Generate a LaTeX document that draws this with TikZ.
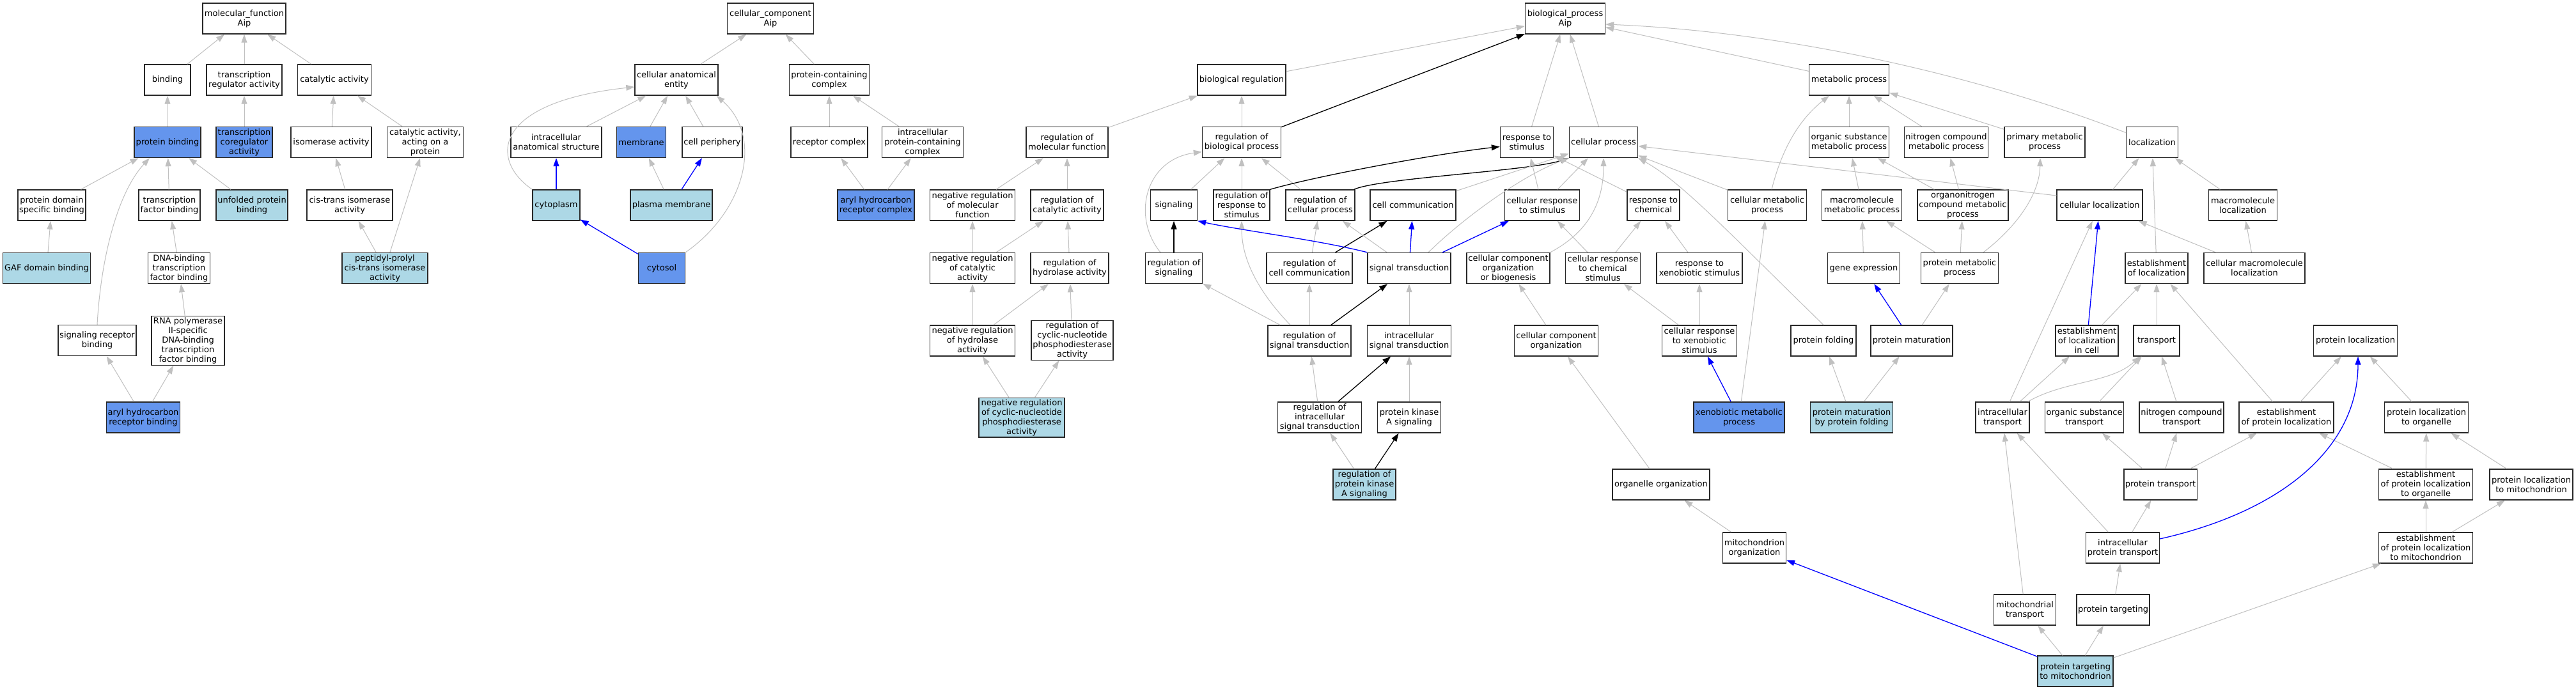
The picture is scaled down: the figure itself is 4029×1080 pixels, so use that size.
\documentclass[tikz,border=0pt]{standalone}
\usepackage{fontspec}
\setmainfont{DejaVu Sans}
\usetikzlibrary{arrows.meta,calc}
\definecolor{egray}{RGB}{192,192,192}
\definecolor{bfill}{RGB}{100,149,237}
\definecolor{lbfill}{RGB}{173,216,230}
\definecolor{bdr}{RGB}{40,40,40}
\definecolor{eblue}{RGB}{0,0,255}
\tikzset{
  box/.style={draw=bdr, line width=1.4pt, fill=white, minimum height=48pt, inner sep=2pt, align=center, font=\fontsize{13}{15}\selectfont},
  hb/.style={fill=bfill},
  lb/.style={fill=lbfill},
  ge/.style={draw=egray, line width=1pt, -{Triangle[length=13pt,width=9pt]}},
  be/.style={draw=black, line width=1.3pt, -{Triangle[length=13pt,width=9pt]}},
  bl/.style={draw=eblue, line width=1.3pt, -{Triangle[length=13pt,width=9pt]}}
}
\newcommand\gonode[6]{\node[box,#5,minimum width=#4pt] (#1) at (#2,#3) {#6};}
\begin{document}
\begin{tikzpicture}[x=1pt,y=-1pt]
\useasboundingbox[fill=white] (0,0) rectangle (4029,1080);
% ---------- molecular function ----------
\gonode{mf}{382}{29}{130}{}{molecular\_function\\Aip}
\gonode{binding}{262}{125}{72}{}{binding}
\gonode{tra}{382}{125}{118}{}{transcription\\regulator activity}
\gonode{cat}{523}{125}{115}{}{catalytic activity}
\gonode{pb}{262}{222.5}{104}{hb}{protein binding}
\gonode{tca}{382}{222.5}{88}{hb}{transcription\\coregulator\\activity}
\gonode{iso}{518}{222.5}{126}{}{isomerase activity}
\gonode{caop}{665}{222.5}{119}{}{catalytic activity,\\acting on a\\protein}
\gonode{pdsb}{81}{321}{106}{}{protein domain\\specific binding}
\gonode{tfb}{265}{321}{96}{}{transcription\\factor binding}
\gonode{upb}{394}{321}{112}{lb}{unfolded protein\\binding}
\gonode{cti}{547}{321}{134}{}{cis-trans isomerase\\activity}
\gonode{gaf}{73}{419.5}{137}{lb}{GAF domain binding}
\gonode{dtfb}{280}{419.5}{97}{}{DNA-binding\\transcription\\factor binding}
\gonode{ppi}{602}{419.5}{134}{lb}{peptidyl-prolyl\\cis-trans isomerase\\activity}
\gonode{srb}{152}{532.5}{122}{}{signaling receptor\\binding}
\gonode{rnap}{294}{533}{114}{}{RNA polymerase\\II-specific\\DNA-binding\\transcription\\factor binding}
\gonode{ahrb}{224}{653}{115}{hb}{aryl hydrocarbon\\receptor binding}
% ---------- cellular component ----------
\gonode{cc}{1205}{29}{135}{}{cellular\_component\\Aip}
\gonode{cae}{1058}{125}{130}{}{cellular anatomical\\entity}
\gonode{pcc}{1297}{125}{125}{}{protein-containing\\complex}
\gonode{ias}{870}{222.5}{142}{}{intracellular\\anatomical structure}
\gonode{mem}{1003}{222.5}{77}{hb}{membrane}
\gonode{cper}{1114}{222.5}{94}{}{cell periphery}
\gonode{rcx}{1297}{222.5}{120}{}{receptor complex}
\gonode{ipcc}{1443}{222.5}{127}{}{intracellular\\protein-containing\\complex}
\gonode{cyto}{870}{321}{74}{lb}{cytoplasm}
\gonode{pm}{1050}{321}{128}{lb}{plasma membrane}
\gonode{ahrc}{1370}{321}{120}{hb}{aryl hydrocarbon\\receptor complex}
\gonode{cytosol}{1035}{419.5}{73}{hb}{cytosol}
% ---------- biological process ----------
\gonode{bp}{2448}{29}{125}{}{biological\_process\\Aip}
\gonode{br}{1942}{125}{138}{}{biological regulation}
\gonode{mp}{2892}{125}{125}{}{metabolic process}
\gonode{rmf}{1669}{222.5}{128}{}{regulation of\\molecular function}
\gonode{rbp}{1942}{222.5}{123}{}{regulation of\\biological process}
\gonode{rs}{2388}{222.5}{83}{}{response to\\stimulus}
\gonode{cpr}{2508}{222.5}{107}{}{cellular process}
\gonode{osmp}{2892}{222.5}{125}{}{organic substance\\metabolic process}
\gonode{ncmp}{3044}{222.5}{131}{}{nitrogen compound\\metabolic process}
\gonode{prim}{3198}{222.5}{126}{}{primary metabolic\\process}
\gonode{loc}{3366}{222.5}{81}{}{localization}
\gonode{nrmf}{1521}{321}{133}{}{negative regulation\\of molecular\\function}
\gonode{rca}{1669}{321}{114}{}{regulation of\\catalytic activity}
\gonode{sig}{1836}{321}{73}{}{signaling}
\gonode{rrs}{1942}{321}{88}{}{regulation of\\response to\\stimulus}
\gonode{rcp}{2065}{321}{108}{}{regulation of\\cellular process}
\gonode{ccm}{2210}{321}{134}{}{cell communication}
\gonode{crs}{2412}{321}{117}{}{cellular response\\to stimulus}
\gonode{rch}{2586}{321}{82}{}{response to\\chemical}
\gonode{cmp}{2764}{321}{123}{}{cellular metabolic\\process}
\gonode{mmp}{2912}{321}{125}{}{macromolecule\\metabolic process}
\gonode{oncmp}{3070}{321}{142}{}{organonitrogen\\compound metabolic\\process}
\gonode{cl}{3284}{321}{134}{}{cellular localization}
\gonode{ml}{3508}{321}{107}{}{macromolecule\\localization}
\gonode{nrca}{1521}{419.5}{133}{}{negative regulation\\of catalytic\\activity}
\gonode{rha}{1673}{419.5}{122}{}{regulation of\\hydrolase activity}
\gonode{rsig}{1836}{419.5}{89}{}{regulation of\\signaling}
\gonode{rcc}{2048}{419.5}{134}{}{regulation of\\cell communication}
\gonode{st}{2204}{419.5}{130}{}{signal transduction}
\gonode{ccob}{2359}{419.5}{130}{}{cellular component\\organization\\or biogenesis}
\gonode{crcs}{2507}{419.5}{117}{}{cellular response\\to chemical\\stimulus}
\gonode{rxs}{2658}{419.5}{134}{}{response to\\xenobiotic stimulus}
\gonode{gexp}{2915}{419.5}{113}{}{gene expression}
\gonode{prmp}{3065}{419.5}{121}{}{protein metabolic\\process}
\gonode{el}{3373}{419.5}{98}{}{establishment\\of localization}
\gonode{cml}{3526}{419.5}{158}{}{cellular macromolecule\\localization}
\gonode{nrha}{1521}{533}{133}{}{negative regulation\\of hydrolase\\activity}
\gonode{rcnpa}{1677}{532.5}{128}{}{regulation of\\cyclic-nucleotide\\phosphodiesterase\\activity}
\gonode{rst}{2048}{533}{130}{}{regulation of\\signal transduction}
\gonode{isst}{2204}{533}{131}{}{intracellular\\signal transduction}
\gonode{cco}{2434}{533}{131}{}{cellular component\\organization}
\gonode{crxs}{2658}{533}{117}{}{cellular response\\to xenobiotic\\stimulus}
\gonode{pf}{2852}{533}{102}{}{protein folding}
\gonode{pmat}{2990}{533}{128}{}{protein maturation}
\gonode{elc}{3264}{533}{98}{}{establishment\\of localization\\in cell}
\gonode{tr}{3373}{533}{72}{}{transport}
\gonode{pl}{3684}{533}{131}{}{protein localization}
\gonode{nrcnpa}{1598}{653}{134}{lb}{negative regulation\\of cyclic-nucleotide\\phosphodiesterase\\activity}
\gonode{risst}{2064}{653}{131}{}{regulation of\\intracellular\\signal transduction}
\gonode{pka}{2204}{653}{99}{}{protein kinase\\A signaling}
\gonode{xmp}{2720}{653}{142}{hb}{xenobiotic metabolic\\process}
\gonode{pmpf}{2896}{653}{129}{lb}{protein maturation\\by protein folding}
\gonode{it}{3132}{653}{84}{}{intracellular\\transport}
\gonode{ost}{3260}{653}{123}{}{organic substance\\transport}
\gonode{nct}{3412}{653}{132}{}{nitrogen compound\\transport}
\gonode{epl}{3576}{653}{148}{}{establishment\\of protein localization}
\gonode{plo}{3795}{653}{131}{}{protein localization\\to organelle}
\gonode{rpka}{2134}{758}{98}{lb}{regulation of\\protein kinase\\A signaling}
\gonode{oo}{2598}{758}{152}{}{organelle organization}
\gonode{pt}{3379}{758}{114}{}{protein transport}
\gonode{eplo}{3794}{758}{147}{}{establishment\\of protein localization\\to organelle}
\gonode{plm}{3959}{758}{130}{}{protein localization\\to mitochondrion}
\gonode{mo}{2744}{857}{99}{}{mitochondrion\\organization}
\gonode{ipt}{3320}{857}{115}{}{intracellular\\protein transport}
\gonode{eplm}{3794}{857}{147}{}{establishment\\of protein localization\\to mitochondrion}
\gonode{mt}{3167}{954}{97}{}{mitochondrial\\transport}
\gonode{ptg}{3305}{954}{114}{}{protein targeting}
\gonode{ptm}{3246}{1050}{118}{lb}{protein targeting\\to mitochondrion}
% ---------- edges: molecular function ----------
\draw[ge] (binding) -- (mf);
\draw[ge] (tra) -- (mf);
\draw[ge] (cat) -- (mf);
\draw[ge] (pb) -- (binding);
\draw[ge] (tca) -- (tra);
\draw[ge] (iso) -- (cat);
\draw[ge] (caop) -- (cat);
\draw[ge] (pdsb) -- (pb);
\draw[ge] (srb.north) .. controls (158,400) and (185,300) .. ($(pb.south)+(-28,0)$);
\draw[ge] (tfb) -- (pb);
\draw[ge] (upb) -- (pb);
\draw[ge] (cti) -- (iso);
\draw[ge] (gaf) -- (pdsb);
\draw[ge] (dtfb) -- (tfb);
\draw[ge] (ppi) -- (cti);
\draw[ge] (ppi) -- (caop);
\draw[ge] (rnap) -- (dtfb);
\draw[ge] (ahrb) -- (srb);
\draw[ge] (ahrb) -- (rnap);
% ---------- edges: cellular component ----------
\draw[ge] (cae) -- (cc);
\draw[ge] (pcc) -- (cc);
\draw[ge] (ias) -- (cae);
\draw[ge] (mem) -- (cae);
\draw[ge] (cper) -- (cae);
\draw[ge] (cyto.north west) .. controls (765,250) and (770,160) .. ($(cae.west)+(0,11)$);
\draw[ge] (cytosol.north east) .. controls (1165,330) and (1195,215) .. ($(cae.south east)+(-3,0)$);
\draw[bl] (cyto) -- (ias);
\draw[ge] (pm) -- (mem);
\draw[bl] (pm) -- (cper);
\draw[bl] (cytosol) -- (cyto);
\draw[ge] (rcx) -- (pcc);
\draw[ge] (ipcc) -- (pcc);
\draw[ge] (ahrc) -- (rcx);
\draw[ge] (ahrc) -- (ipcc);
% ---------- edges: biological process ----------
\draw[ge] (br) -- (bp);
\draw[be] (rbp) -- (bp);
\draw[ge] (rs) -- (bp);
\draw[ge] (cpr) -- (bp);
\draw[ge] (mp) -- (bp);
\draw[ge] ($(loc.west)+(0,-15)$) .. controls (3100,120) and (2800,50) .. ($(bp.east)+(0,9)$);
\draw[ge] (rmf) -- (br);
\draw[ge] (rbp) -- (br);
\draw[ge] (nrmf) -- (rmf);
\draw[ge] (rca) -- (rmf);
\draw[ge] (nrca) -- (nrmf);
\draw[ge] (nrca) -- (rca);
\draw[ge] (rha) -- (rca);
\draw[ge] (nrha) -- (nrca);
\draw[ge] (nrha) -- (rha);
\draw[ge] (rcnpa) -- (rha);
\draw[ge] (nrcnpa) -- (nrha);
\draw[ge] (nrcnpa) -- (rcnpa);
\draw[ge] (sig) -- (rbp);
\draw[ge] (rrs) -- (rbp);
\draw[ge] (rcp) -- (rbp);
\draw[ge] ($(rsig.north)+(-21,0)$) .. controls (1770,340) and (1790,250) .. ($(rbp.west)+(0,15)$);
\draw[be] (rrs.north east) .. controls (2060,275) and (2250,240) .. ($(rs.west)+(0,7)$);
\draw[be] ($(rcp.north east)+(-2,0)$) .. controls (2160,278) and (2390,268) .. (cpr.south west);
\draw[be] (rsig) -- (sig);
\draw[ge] (rst) -- (rsig);
\draw[ge] ($(rst.north)+(-30,0)$) .. controls (1962,450) and (1942,400) .. (rrs.south);
\draw[ge] (rst) -- (rcc);
\draw[be] (rst) -- (st);
\draw[ge] (rcc) -- (rcp);
\draw[be] (rcc) -- (ccm);
\draw[bl] (st.north west) .. controls (2060,375) and (1950,362) .. (sig.south east);
\draw[bl] (st) -- (ccm);
\draw[bl] (st) -- (crs);
\draw[ge] (st) -- (rcp);
\draw[ge] ($(st.north)+(30,0)$) .. controls (2290,340) and (2380,275) .. (cpr.south west);
\draw[ge] (ccm) -- (cpr);
\draw[ge] (crs) -- (rs);
\draw[ge] (crs) -- (cpr);
\draw[ge] (rch) -- (rs);
\draw[ge] (ccob.north east) .. controls (2490,360) and (2508,310) .. (cpr.south);
\draw[ge] (cmp) -- (cpr);
\draw[ge] ($(cmp.north)+(7,0)$) .. controls (2785,240) and (2810,190) .. ($(mp.south)+(-31,0)$);
\draw[ge] (crcs) -- (crs);
\draw[ge] (crcs) -- (rch);
\draw[ge] (rxs) -- (rch);
\draw[ge] (crxs) -- (crcs);
\draw[ge] (crxs) -- (rxs);
\draw[ge] (isst) -- (st);
\draw[ge] (risst) -- (rst);
\draw[be] (risst) -- (isst);
\draw[ge] (pka) -- (isst);
\draw[ge] (rpka) -- (risst);
\draw[be] (rpka) -- (pka);
\draw[ge] (cco) -- (ccob);
\draw[ge] (oo) -- (cco);
\draw[ge] (mo) -- (oo);
\draw[bl] (xmp) -- (crxs);
\draw[ge] (xmp) -- (cmp);
\draw[ge] (pf.north) .. controls (2700,360) and (2630,285) .. (cpr.south east);
\draw[ge] ($(cl.west)+(0,-15)$) -- ($(cpr.east)+(0,6)$);
\draw[ge] (osmp) -- (mp);
\draw[ge] (ncmp) -- (mp);
\draw[ge] (prim) -- (mp);
\draw[ge] (mmp) -- (osmp);
\draw[ge] (oncmp) -- (osmp);
\draw[ge] (oncmp) -- (ncmp);
\draw[ge] (gexp) -- (mmp);
\draw[ge] (prmp) -- (mmp);
\draw[ge] (prmp) -- (oncmp);
\draw[ge] ($(prmp.north)+(37,0)$) .. controls (3160,350) and (3190,300) .. ($(prim.south)+(-7,0)$);
\draw[bl] (pmat) -- (gexp);
\draw[ge] (pmat) -- (prmp);
\draw[ge] (pmpf) -- (pf);
\draw[ge] (pmpf) -- (pmat);
% ---------- edges: localization ----------
\draw[ge] (cl) -- (loc);
\draw[ge] (el) -- (loc);
\draw[ge] (ml) -- (loc);
\draw[ge] (cml) -- (cl);
\draw[ge] (cml) -- (ml);
\draw[bl] (elc) -- (cl);
\draw[ge] (elc) -- (el);
\draw[ge] (tr) -- (el);
\draw[ge] (epl) -- (el);
\draw[ge] (it) -- (cl);
\draw[ge] (it) -- (elc);
\draw[ge] ($(it.north east)+(-3,0)$) .. controls (3230,595) and (3300,600) .. ($(tr.south west)+(11,0)$);
\draw[ge] (ost) -- (tr);
\draw[ge] (nct) -- (tr);
\draw[ge] (pt) -- (ost);
\draw[ge] (pt) -- (nct);
\draw[ge] (pt) -- (epl);
\draw[ge] (epl) -- (pl);
\draw[ge] (plo) -- (pl);
\draw[ge] (eplo) -- (epl);
\draw[ge] (eplo) -- (plo);
\draw[ge] (plm) -- (plo);
\draw[ge] (eplm) -- (eplo);
\draw[ge] (eplm) -- (plm);
\draw[ge] (ipt) -- (pt);
\draw[ge] (ipt) -- (it);
\draw[bl] ($(ipt.east)+(0,-14)$) .. controls (3570,800) and (3688,700) .. ($(pl.south)+(4,0)$);
\draw[ge] (ptg) -- (ipt);
\draw[ge] (mt) -- (it);
\draw[ge] (ptm) -- (mt);
\draw[ge] (ptm) -- (ptg);
\draw[ge] (ptm) -- (eplm);
\draw[bl] (ptm) -- (mo);
\end{tikzpicture}
\end{document}
